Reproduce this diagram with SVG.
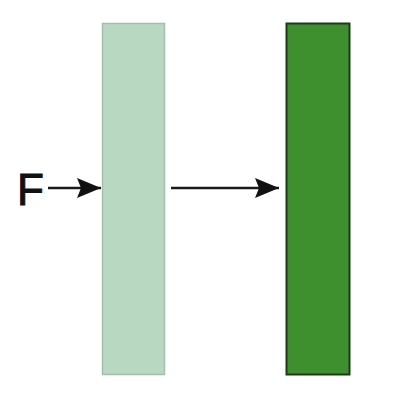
<svg xmlns="http://www.w3.org/2000/svg" width="409" height="400" viewBox="0 0 409 400">
<style>
.arrow{stroke:#1a1a1a;stroke-width:2.5;fill:none}
</style>
<defs>
<marker id="ah2" viewBox="0 0 24 20" refX="24" refY="10" markerWidth="24" markerHeight="20" orient="auto" markerUnits="userSpaceOnUse">
<path d="M0,0 L24,10 L0,20 L4,10 Z" fill="#111"/>
</marker>
</defs>
<rect width="409" height="400" fill="#ffffff"/>
<g id="plate1">
<rect x="102.5" y="23.5" width="62" height="351" fill="#b9d8c1" stroke="#a3bfaa" stroke-width="1.5"/>
</g>
<g id="plate2">
<rect x="286.5" y="23.5" width="63" height="351" fill="#3e902f" stroke="#1c3a16" stroke-width="2"/>
</g>
<g id="label-F">
<text x="17" y="205" font-family="Liberation Sans, Arial, sans-serif" font-size="44" fill="#111" stroke="#111" stroke-width="1">F</text>
</g>
<g id="connectors">
<line class="arrow" x1="48" y1="188" x2="101" y2="188" marker-end="url(#ah2)"/>
<line class="arrow" x1="171" y1="188" x2="279" y2="188" marker-end="url(#ah2)"/>
</g>
</svg>
